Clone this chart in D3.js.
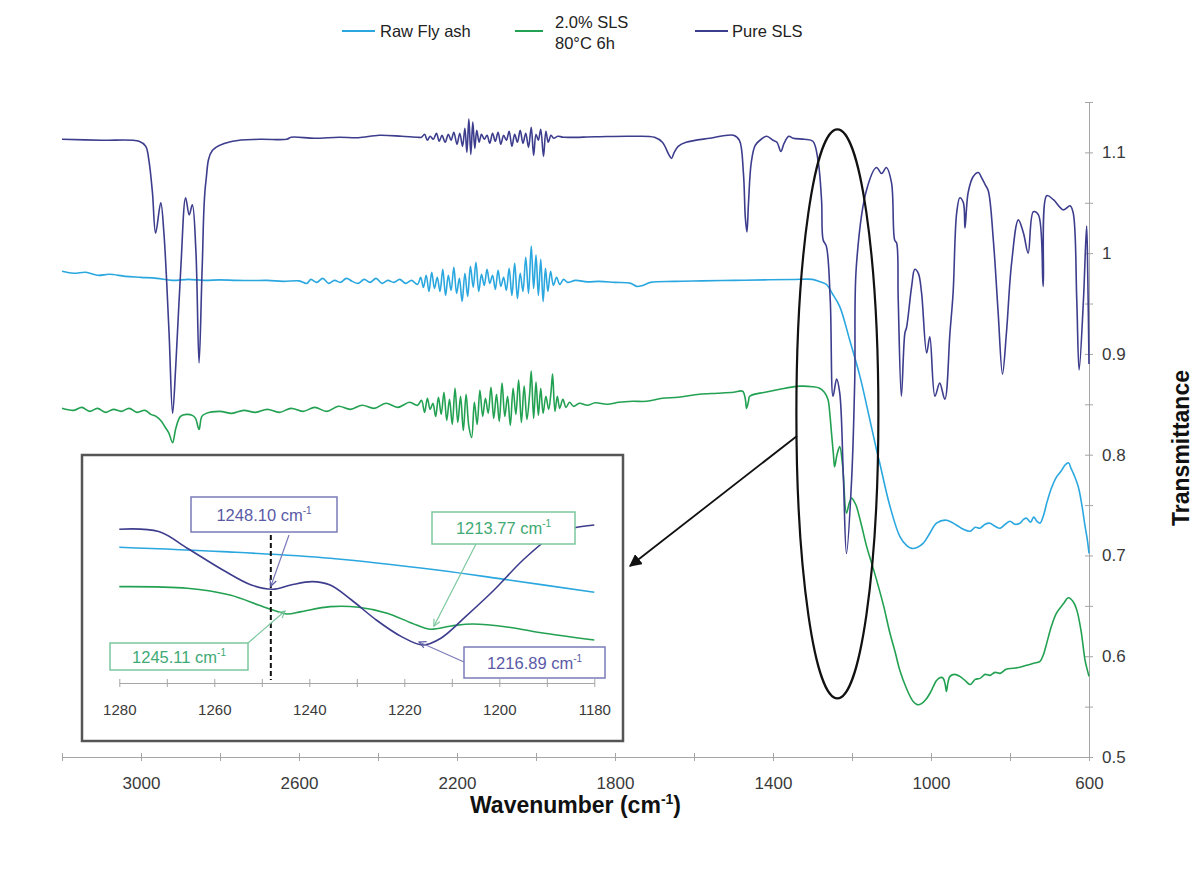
<!DOCTYPE html>
<html>
<head>
<meta charset="utf-8">
<script src="https://cdn.jsdelivr.net/npm/d3@7/dist/d3.min.js"></script>
<style>
  html, body { margin: 0; padding: 0; background: #fff; }
  svg { display: block; font-family: "Liberation Sans", Arial, sans-serif; }
</style>
</head>
<body>
<svg id="chart" width="1195" height="890"></svg>
<script>
// ---------------- DATA ----------------
const seriesNames = ["Raw Fly ash", "2.0% SLS|80°C 6h", "Pure SLS"];

const xTicks = [3200, 3000, 2800, 2600, 2400, 2200, 2000, 1800, 1600, 1400, 1200, 1000, 800, 600];
const xTickLabels = [3000, 2600, 2200, 1800, 1400, 1000, 600];
const yTicks = [0.5, 0.55, 0.6, 0.65, 0.7, 0.75, 0.8, 0.85, 0.9, 0.95, 1.0, 1.05, 1.1, 1.15];
const yTickLabels = [0.5, 0.6, 0.7, 0.8, 0.9, 1.0, 1.1];

// Raw Fly ash: [wavenumber cm-1, transmittance]
const rawFlyAsh = [
  [3200,0.982],[3170,0.980],[3140,0.981],[3110,0.978],[3080,0.979],[3040,0.977],[3000,0.976],[2960,0.975],
  [2920,0.973],[2880,0.974],[2840,0.973],[2800,0.9735],[2760,0.973],[2720,0.9728],[2680,0.973],[2640,0.972],
  [2600,0.9725],[2580,0.970],[2570,0.974],[2555,0.971],[2540,0.975],[2525,0.970],[2510,0.973],[2495,0.971],
  [2480,0.975],[2465,0.972],[2450,0.970],[2435,0.974],[2420,0.971],[2405,0.975],[2390,0.970],[2375,0.973],
  [2360,0.971],[2345,0.974],[2330,0.970],[2315,0.973],[2300,0.969],[2292,0.976],[2285,0.966],[2278,0.978],
  [2271,0.962],[2264,0.981],[2257,0.965],[2250,0.976],[2243,0.962],[2236,0.984],[2229,0.958],[2222,0.978],
  [2215,0.963],[2208,0.986],[2201,0.960],[2194,0.975],[2187,0.952],[2180,0.980],[2173,0.957],[2166,0.987],
  [2159,0.966],[2152,0.991],[2145,0.962],[2138,0.979],[2131,0.968],[2124,0.984],[2117,0.970],[2110,0.978],
  [2103,0.964],[2096,0.983],[2089,0.967],[2082,0.976],[2075,0.963],[2068,0.985],[2061,0.958],[2054,0.990],
  [2047,0.955],[2040,0.980],[2033,0.962],[2026,0.996],[2019,0.960],[2012,1.007],[2006,0.965],[2000,0.998],
  [1994,0.958],[1988,0.994],[1982,0.952],[1976,0.985],[1970,0.962],[1963,0.982],[1956,0.968],[1948,0.976],
  [1940,0.969],[1930,0.974],[1920,0.971],[1900,0.973],[1870,0.9715],[1840,0.972],[1800,0.971],[1760,0.970],
  [1745,0.967],[1730,0.968],[1710,0.971],[1650,0.972],[1580,0.9725],[1500,0.973],[1420,0.9735],[1350,0.9738],
  [1300,0.974],[1280,0.9715],[1265,0.969],[1250,0.960],[1231,0.947],[1206,0.914],[1180,0.878],[1155,0.835],
  [1138,0.805],[1130,0.792],[1104,0.749],[1079,0.719],[1062,0.710],[1049,0.707],[1035,0.708],[1020,0.712],
  [1003,0.722],[986,0.732],[961,0.735],[935,0.730],[918,0.726],[901,0.724],[888,0.728],[876,0.727],
  [863,0.731],[851,0.732],[838,0.729],[825,0.727],[812,0.731],[800,0.734],[788,0.731],[775,0.732],
  [765,0.736],[758,0.737],[748,0.733],[740,0.738],[732,0.734],[724,0.732],[715,0.740],[707,0.752],
  [695,0.767],[682,0.778],[670,0.784],[660,0.790],[652,0.792],[645,0.786],[638,0.780],[627,0.768],
  [618,0.750],[610,0.729],[604,0.715],[600,0.702]
];

// 2.0% SLS 80°C 6h
const sls2 = [
  [3200,0.846],[3170,0.844],[3150,0.847],[3130,0.843],[3110,0.846],[3090,0.842],[3070,0.845],[3050,0.843],
  [3030,0.846],[3010,0.842],[2990,0.844],[2975,0.840],[2962,0.838],[2950,0.834],[2940,0.828],[2930,0.822],
  [2920,0.812],[2912,0.826],[2900,0.838],[2885,0.840],[2870,0.839],[2862,0.836],[2853,0.825],[2846,0.838],
  [2835,0.841],[2800,0.843],[2770,0.841],[2740,0.844],[2710,0.842],[2680,0.845],[2650,0.842],[2620,0.846],
  [2590,0.843],[2560,0.847],[2530,0.843],[2500,0.848],[2470,0.845],[2440,0.849],[2410,0.846],[2380,0.851],
  [2350,0.847],[2320,0.852],[2300,0.849],[2290,0.854],[2282,0.842],[2275,0.856],[2268,0.845],[2261,0.851],
  [2254,0.838],[2247,0.857],[2240,0.840],[2233,0.862],[2226,0.834],[2219,0.855],[2212,0.830],[2205,0.866],
  [2198,0.832],[2191,0.858],[2184,0.824],[2177,0.860],[2170,0.828],[2163,0.817],[2156,0.852],[2149,0.830],
  [2142,0.864],[2135,0.838],[2128,0.856],[2121,0.841],[2114,0.867],[2107,0.836],[2100,0.860],[2093,0.833],
  [2086,0.871],[2079,0.838],[2072,0.858],[2065,0.829],[2058,0.866],[2051,0.840],[2044,0.874],[2037,0.832],
  [2030,0.868],[2023,0.835],[2016,0.861],[2012,0.883],[2006,0.836],[2000,0.872],[1994,0.839],[1988,0.866],
  [1982,0.841],[1975,0.858],[1968,0.845],[1962,0.862],[1958,0.880],[1952,0.843],[1946,0.858],[1940,0.846],
  [1932,0.855],[1924,0.847],[1915,0.852],[1905,0.848],[1890,0.851],[1870,0.849],[1850,0.8515],[1820,0.850],
  [1790,0.852],[1756,0.853],[1720,0.853],[1680,0.856],[1640,0.857],[1586,0.860],[1540,0.861],[1500,0.862],
  [1477,0.863],[1470,0.855],[1467,0.846],[1462,0.853],[1459,0.858],[1420,0.862],[1383,0.865],[1332,0.868],
  [1300,0.8675],[1282,0.866],[1270,0.862],[1261,0.855],[1256,0.840],[1252,0.822],[1247,0.800],[1244,0.788],
  [1238,0.800],[1231,0.808],[1224,0.790],[1214,0.742],[1207,0.752],[1201,0.757],[1195,0.754],[1189,0.749],
  [1176,0.730],[1163,0.709],[1150,0.692],[1138,0.676],[1120,0.650],[1104,0.623],[1090,0.603],[1079,0.586],
  [1062,0.568],[1045,0.555],[1035,0.552],[1024,0.553],[1013,0.557],[1003,0.563],[994,0.570],[986,0.576],
  [975,0.579],[969,0.578],[964,0.572],[961,0.565],[957,0.574],[952,0.580],[940,0.582],[927,0.580],
  [914,0.576],[901,0.572],[888,0.577],[876,0.578],[863,0.582],[851,0.581],[838,0.584],[825,0.583],
  [810,0.587],[792,0.588],[775,0.589],[758,0.591],[740,0.593],[724,0.595],[715,0.602],[707,0.613],
  [695,0.630],[682,0.643],[665,0.652],[652,0.658],[640,0.654],[631,0.646],[620,0.625],[610,0.596],
  [604,0.586],[600,0.580]
];

// Pure SLS
const pureSLS = [
  [3200,1.113],[3100,1.112],[3005,1.111],[2988,1.106],[2980,1.092],[2971,1.060],[2963,1.020],[2950,1.050],
  [2942,1.020],[2929,0.921],[2920,0.841],[2912,0.888],[2899,0.987],[2887,1.055],[2878,1.038],[2870,1.048],
  [2861,1.002],[2853,0.891],[2845,0.987],[2836,1.070],[2819,1.102],[2768,1.111],[2700,1.113],[2631,1.113],
  [2620,1.115],[2560,1.114],[2498,1.115],[2450,1.1145],[2397,1.117],[2340,1.116],[2300,1.115],[2290,1.115],
  [2282,1.118],[2275,1.112],[2268,1.116],[2260,1.113],[2252,1.119],[2245,1.111],[2238,1.117],[2230,1.110],
  [2222,1.118],[2215,1.112],[2208,1.120],[2200,1.108],[2193,1.119],[2186,1.106],[2180,1.124],[2175,1.100],
  [2170,1.133],[2165,1.098],[2160,1.130],[2155,1.104],[2150,1.122],[2144,1.110],[2138,1.118],[2131,1.113],
  [2124,1.117],[2117,1.109],[2110,1.119],[2103,1.111],[2096,1.120],[2089,1.108],[2082,1.117],[2075,1.112],
  [2068,1.121],[2061,1.106],[2054,1.118],[2047,1.110],[2040,1.122],[2033,1.109],[2026,1.119],[2019,1.105],
  [2012,1.125],[2006,1.097],[2000,1.118],[1994,1.112],[1988,1.123],[1981,1.096],[1975,1.121],[1969,1.110],
  [1962,1.117],[1955,1.114],[1945,1.116],[1930,1.115],[1850,1.1155],[1760,1.116],[1700,1.115],[1680,1.110],
  [1664,1.098],[1657,1.094],[1650,1.100],[1640,1.106],[1620,1.110],[1560,1.114],[1500,1.117],[1485,1.112],
  [1475,1.080],[1470,1.035],[1466,1.021],[1462,1.050],[1455,1.090],[1445,1.107],[1430,1.113],[1416,1.116],
  [1400,1.112],[1390,1.110],[1380,1.101],[1372,1.109],[1360,1.116],[1349,1.114],[1320,1.113],[1299,1.111],
  [1286,1.092],[1277,1.052],[1273,1.013],[1265,1.007],[1255,0.953],[1248,0.858],[1239,0.875],[1231,0.861],
  [1222,0.780],[1214,0.702],[1201,0.775],[1193,0.875],[1189,0.987],[1163,1.063],[1138,1.085],[1125,1.079],
  [1113,1.085],[1100,1.070],[1092,1.013],[1087,1.010],[1083,0.954],[1075,0.858],[1066,0.921],[1062,0.926],
  [1049,0.967],[1041,0.984],[1032,0.980],[1024,0.961],[1011,0.901],[1003,0.917],[990,0.858],[978,0.871],
  [965,0.855],[952,0.921],[944,0.961],[935,1.040],[927,1.055],[918,1.050],[914,1.025],[906,1.060],
  [893,1.076],[880,1.080],[872,1.075],[863,1.068],[855,1.062],[842,1.012],[830,0.941],[819,0.880],
  [809,0.921],[796,0.990],[779,1.033],[766,1.020],[754,1.000],[741,1.041],[728,1.038],[716,0.967],
  [707,1.057],[690,1.053],[665,1.043],[648,1.047],[640,1.040],[631,0.954],[625,0.884],[614,0.954],
  [606,1.027],[603,0.975],[600,0.890]
];

// Inset (1280-1180 cm-1), relative transmittance units
const insetTicks = [1280, 1270, 1260, 1250, 1240, 1230, 1220, 1210, 1200, 1190, 1180];
const insetTickLabels = [1280, 1260, 1240, 1220, 1200, 1180];
const insetRaw = [[1280,0.679],[1258.2,0.657],[1235.6,0.624],[1213.1,0.565],[1198,0.515],[1180,0.454]];
const insetSLS = [
  [1280,0.482],[1265.7,0.474],[1256.7,0.44],[1250.7,0.39],[1247.7,0.365],[1244.7,0.345],[1241.7,0.357],
  [1235.6,0.382],[1229.6,0.379],[1223.6,0.349],[1218.4,0.299],[1214.6,0.269],[1210.1,0.285],[1205.6,0.295],
  [1198,0.279],[1190.5,0.249],[1180,0.215]
];
const insetPure = [
  [1280,0.769],[1271.7,0.757],[1265.7,0.674],[1258.2,0.565],[1252.2,0.49],[1247.7,0.469],[1243.9,0.49],
  [1239.4,0.507],[1235.6,0.49],[1231.1,0.415],[1225.9,0.315],[1220.6,0.232],[1216.1,0.19],[1212.3,0.224],
  [1207.1,0.332],[1201.1,0.465],[1195,0.615],[1189,0.732],[1184.5,0.774],[1180,0.79]
];
const peakLabels = ["1248.10", "1213.77", "1245.11", "1216.89"];
const peakWn = [1248.10, 1213.77, 1245.11, 1216.89];
const peakValue = [0.469, 0.269, 0.345, 0.19];

// ---------------- DRAW ----------------
const FONT = "Liberation Sans, Arial, sans-serif";
const C_RAW = "#2ba7df", C_SLS = "#23a152", C_PURE = "#3d3d8e";
const C_PURE_T = "#5a5aa6", C_SLS_T = "#3faa74";
const AXIS = "#a6a6a6";

const svg = d3.select("#chart");
svg.append("rect").attr("width", 1195).attr("height", 890).attr("fill", "#fff");

const x = d3.scaleLinear().domain([3200, 600]).range([62, 1089]);
const y = d3.scaleLinear().domain([0.5, 1.15]).range([757, 102]);

// bottom axis
const gx = svg.append("g").attr("transform", `translate(0,${y(0.5)})`)
  .call(d3.axisBottom(x).tickValues(xTicks).tickSize(4).tickSizeOuter(0)
    .tickFormat(d => xTickLabels.includes(d) ? d : ""));
gx.select(".domain").attr("stroke", AXIS);
gx.selectAll(".tick line").attr("stroke", AXIS).attr("y1", -4).attr("y2", 4);
gx.selectAll(".tick text").attr("font-size", 17).attr("fill", "#3a3a3a").attr("y", 32).attr("dy", 0)
  .attr("font-family", FONT);

// right axis
const gy = svg.append("g").attr("transform", `translate(${x(600)},0)`)
  .call(d3.axisRight(y).tickValues(yTicks).tickSize(4).tickSizeOuter(0)
    .tickFormat(d => yTickLabels.some(v => Math.abs(v - d) < 1e-9) ? String(+d.toFixed(2)) : ""));
gy.select(".domain").attr("stroke", AXIS);
gy.selectAll(".tick line").attr("stroke", AXIS).attr("x1", -4).attr("x2", 4);
gy.selectAll(".tick text").attr("font-size", 17).attr("fill", "#3a3a3a").attr("x", 13)
  .attr("font-family", FONT);

// axis titles
const xt = svg.append("text").attr("x", (x(3200) + x(600)) / 2).attr("y", 813)
  .attr("text-anchor", "middle").attr("font-size", 23).attr("font-weight", "bold").attr("fill", "#111");
xt.append("tspan").text("Wavenumber (cm");
xt.append("tspan").text("-1").attr("font-size", 14).attr("dy", -9);
xt.append("tspan").text(")").attr("dy", 9);

svg.append("text").attr("transform", `translate(1189,448) rotate(-90)`)
  .attr("text-anchor", "middle").attr("font-size", 23).attr("font-weight", "bold").attr("fill", "#111")
  .text("Transmittance");

// series
const line = d3.line().x(d => x(d[0])).y(d => y(d[1])).curve(d3.curveCatmullRom.alpha(0.5));
[[rawFlyAsh, C_RAW], [sls2, C_SLS], [pureSLS, C_PURE]].forEach(([data, col]) => {
  svg.append("path").datum(data).attr("d", line).attr("fill", "none")
    .attr("stroke", col).attr("stroke-width", 1.6).attr("stroke-linejoin", "round");
});

// legend
const legend = svg.append("g").attr("font-size", 16.5).attr("fill", "#222");
const legItems = [
  { col: C_RAW, x1: 342, x2: 375, tx: 380 },
  { col: C_SLS, x1: 515, x2: 543, tx: 555 },
  { col: C_PURE, x1: 695, x2: 728, tx: 732 }
];
legItems.forEach((it, i) => {
  legend.append("line").attr("x1", it.x1).attr("x2", it.x2).attr("y1", 31).attr("y2", 31)
    .attr("stroke", it.col).attr("stroke-width", 2);
  const parts = seriesNames[i].split("|");
  parts.forEach((t, j) => {
    const yy = parts.length === 1 ? 37 : 28 + j * 21;
    legend.append("text").attr("x", it.tx).attr("y", yy).text(t);
  });
});

// ellipse highlight + arrow
svg.append("defs").html(`
  <marker id="bigArrow" viewBox="0 0 10 10" refX="9" refY="5" markerWidth="7" markerHeight="7" orient="auto-start-reverse">
    <path d="M0,0 L10,5 L0,10 z" fill="#111"/></marker>
  <marker id="arrP" viewBox="0 0 10 10" refX="9" refY="5" markerWidth="7" markerHeight="7" orient="auto">
    <path d="M1,1 L9,5 L1,9" fill="none" stroke="${C_PURE_T}" stroke-width="1.4"/></marker>
  <marker id="arrG" viewBox="0 0 10 10" refX="9" refY="5" markerWidth="7" markerHeight="7" orient="auto">
    <path d="M1,1 L9,5 L1,9" fill="none" stroke="#7cc79e" stroke-width="1.4"/></marker>
`);
const ecx = x(1237), ecy = y(0.8405);
svg.append("ellipse").attr("cx", ecx).attr("cy", ecy).attr("rx", 41).attr("ry", 284.5)
  .attr("fill", "none").attr("stroke", "#111").attr("stroke-width", 2.2);
svg.append("line").attr("x1", 797).attr("y1", 436).attr("x2", 630).attr("y2", 566)
  .attr("stroke", "#111").attr("stroke-width", 1.8).attr("marker-end", "url(#bigArrow)");

// ---------------- INSET ----------------
const inset = svg.append("g");
inset.append("rect").attr("x", 82).attr("y", 455).attr("width", 541).attr("height", 286)
  .attr("fill", "#fff").attr("stroke", "#555").attr("stroke-width", 2.5);

const xi = d3.scaleLinear().domain([1280, 1180]).range([119.3, 594.3]);
const yi = d3.scaleLinear().domain([0, 1]).range([683, 483]);

const gi = inset.append("g").attr("transform", `translate(0,683)`)
  .call(d3.axisBottom(xi).tickValues(insetTicks).tickSize(4).tickSizeOuter(0)
    .tickFormat(d => insetTickLabels.includes(d) ? d : ""));
gi.select(".domain").attr("stroke", AXIS);
gi.selectAll(".tick line").attr("stroke", AXIS).attr("y1", -4).attr("y2", 4);
gi.selectAll(".tick text").attr("font-size", 15).attr("fill", "#3a3a3a").attr("y", 32).attr("dy", 0)
  .attr("font-family", FONT);

const lineI = d3.line().x(d => xi(d[0])).y(d => yi(d[1])).curve(d3.curveCatmullRom.alpha(0.5));
[[insetRaw, C_RAW], [insetSLS, C_SLS], [insetPure, C_PURE]].forEach(([data, col]) => {
  inset.append("path").datum(data).attr("d", lineI).attr("fill", "none")
    .attr("stroke", col).attr("stroke-width", 1.6);
});

// dashed marker line at 1248.10
inset.append("line").attr("x1", xi(peakWn[0])).attr("x2", xi(peakWn[0]))
  .attr("y1", 535).attr("y2", 680).attr("stroke", "#111").attr("stroke-width", 2)
  .attr("stroke-dasharray", "5,3");

// peak annotations: box (left, top, w, h), arrow tail, colour
const ann = [
  { bx: 191, by: 497, bw: 146, bh: 35, tail: [289, 535], col: C_PURE_T, bcol: "#7b7bb8", m: "arrP" },
  { bx: 432, by: 512, bw: 143, bh: 32, tail: [476, 544], col: C_SLS_T, bcol: "#7cc79e", m: "arrG" },
  { bx: 110, by: 643, bw: 138, bh: 27, tail: [248, 643], col: C_SLS_T, bcol: "#7cc79e", m: "arrG" },
  { bx: 464, by: 647, bw: 141, bh: 31, tail: [464, 662], col: C_PURE_T, bcol: "#7b7bb8", m: "arrP" }
];
ann.forEach((a, i) => {
  const tx = xi(peakWn[i]), ty = yi(peakValue[i]) - 3;
  inset.append("line").attr("x1", a.tail[0]).attr("y1", a.tail[1]).attr("x2", tx).attr("y2", ty)
    .attr("stroke", a.bcol).attr("stroke-width", 1.2).attr("marker-end", `url(#${a.m})`);
  inset.append("rect").attr("x", a.bx).attr("y", a.by).attr("width", a.bw).attr("height", a.bh)
    .attr("fill", "#fff").attr("stroke", a.bcol).attr("stroke-width", 1.5);
  const t = inset.append("text").attr("x", a.bx + a.bw / 2).attr("y", a.by + a.bh / 2 + 6)
    .attr("text-anchor", "middle").attr("font-size", 16.5).attr("fill", a.col);
  t.append("tspan").text(peakLabels[i] + " cm");
  t.append("tspan").text("-1").attr("font-size", 10).attr("dy", -7);
});
</script>
</body>
</html>
